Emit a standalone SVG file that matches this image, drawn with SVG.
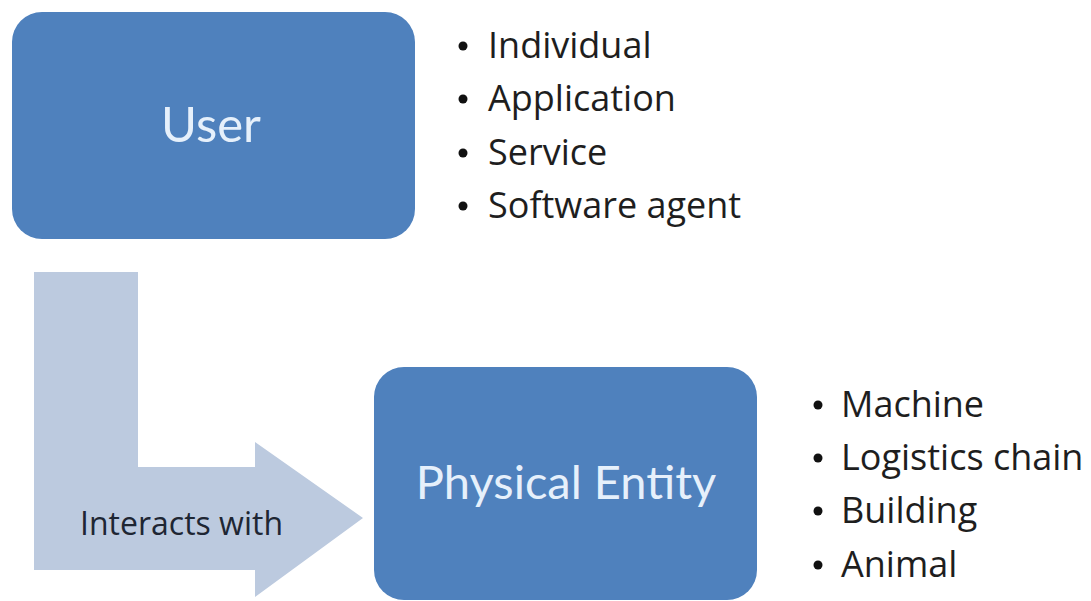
<svg xmlns="http://www.w3.org/2000/svg" width="1091" height="601" viewBox="0 0 1091 601">
  <style>
    .box { fill: #4f81bd; }
    .box-label { font-family: Lato, "Open Sans", sans-serif; fill: #e6f0fb; text-anchor: middle; }
    .list { font-family: "Open Sans", Lato, sans-serif; font-size: 36px; fill: #1e1e1e; }
    .dot { fill: #111; }
    .flow { fill: #bccadf; }
    .flow-label { font-family: "Open Sans", Lato, sans-serif; font-size: 32px; fill: #1e2633; }
  </style>
  <rect width="1091" height="601" fill="#ffffff"/>

  <!-- connector: bent block arrow from User down and across to Physical Entity -->
  <g id="connectors">
    <path class="flow" d="M34 272 H138 V467 H255 V442 L363 518 L255 597 V570 H34 Z"/>
    <text class="flow-label" x="80" y="535">Interacts with</text>
  </g>

  <g id="user">
    <rect class="box" x="12" y="12" width="403" height="227" rx="30" ry="30"/>
    <text class="box-label" x="211" y="142" font-size="49">User</text>
  </g>

  <g id="user-kinds">
    <circle class="dot" cx="463" cy="46" r="4.5"/>
    <text class="list" x="488" y="58">Individual</text>
    <circle class="dot" cx="463" cy="99" r="4.5"/>
    <text class="list" x="488" y="111">Application</text>
    <circle class="dot" cx="463" cy="153" r="4.5"/>
    <text class="list" x="488" y="165">Service</text>
    <circle class="dot" cx="463" cy="206" r="4.5"/>
    <text class="list" x="488" y="218">Software agent</text>
  </g>

  <g id="physical-entity">
    <rect class="box" x="374" y="367" width="383" height="233" rx="30" ry="30"/>
    <text class="box-label" x="566" y="499" font-size="47">Physical Entity</text>
  </g>

  <g id="entity-kinds">
    <circle class="dot" cx="818" cy="405" r="4.5"/>
    <text class="list" x="841" y="417">Machine</text>
    <circle class="dot" cx="818" cy="458" r="4.5"/>
    <text class="list" x="841" y="470">Logistics chain</text>
    <circle class="dot" cx="818" cy="511" r="4.5"/>
    <text class="list" x="841" y="523">Building</text>
    <circle class="dot" cx="818" cy="565" r="4.5"/>
    <text class="list" x="841" y="577">Animal</text>
  </g>
</svg>
